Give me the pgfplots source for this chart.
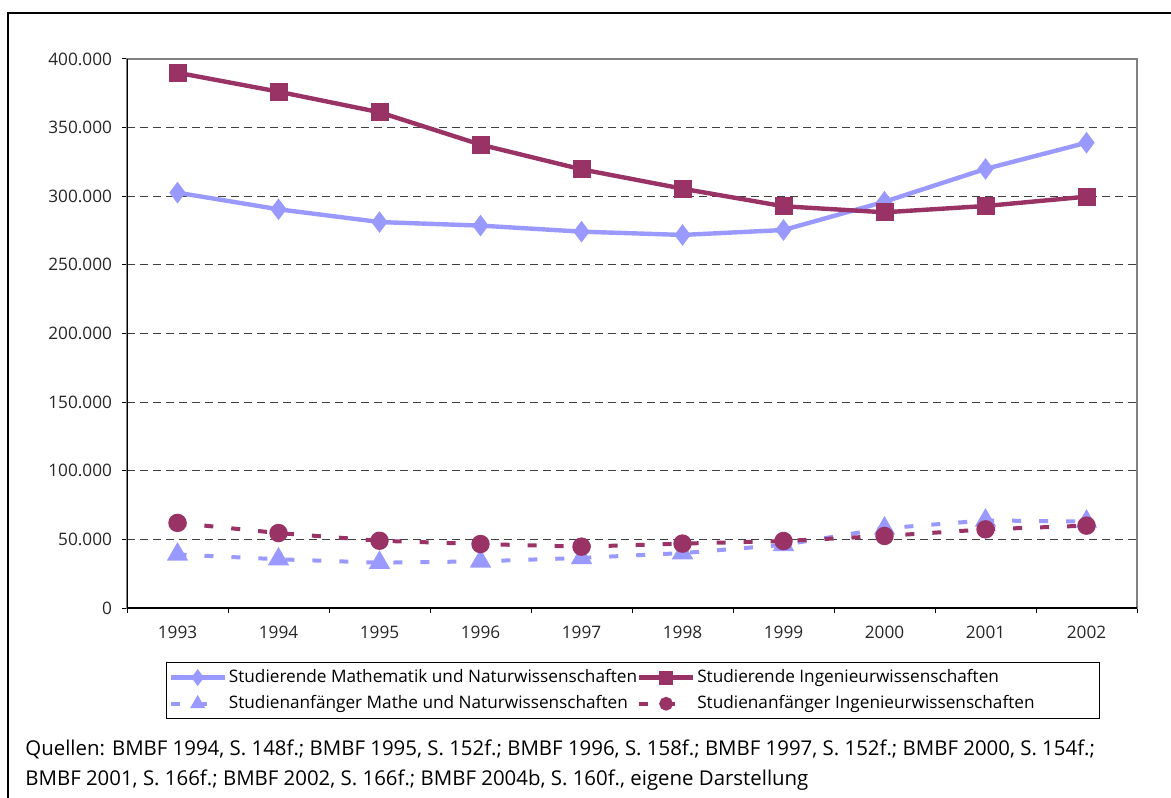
\documentclass[border=0pt]{standalone}
\usepackage{fontspec}
\setmainfont{Open Sans}
\usepackage{pgfplots}
\pgfplotsset{compat=1.18}
\definecolor{mnblue}{HTML}{9999FF}
\definecolor{ingpurple}{HTML}{993366}
\definecolor{gridgray}{HTML}{404040}

\newcommand{\lfont}{\fontsize{8.6pt}{10pt}\selectfont}
\newcommand{\sfont}{\fontsize{10.2pt}{12pt}\selectfont}

\begin{document}
\begin{tikzpicture}
\path[use as bounding box] (0,0) rectangle (585.5pt,398.5pt);
\begin{scope}
  \clip (0,0) rectangle (585.5pt,398.5pt);
  \draw[line width=1.3pt] (4pt,-5pt) -- (4pt,392pt) -- (600pt,392pt);
\end{scope}
\begin{axis}[
  at={(63.5pt,94.5pt)}, anchor=south west,
  scale only axis, width=505pt, height=274.5pt,
  xmin=-0.5, xmax=9.5, ymin=0, ymax=400000,
  xtick={0,...,9},
  xticklabels={1993,1994,1995,1996,1997,1998,1999,2000,2001,2002},
  major x tick style={draw=none},
  minor xtick={-0.5,0.5,...,9.5},
  ytick={0,50000,...,400000},
  scaled y ticks=false,
  /pgf/number format/.cd, fixed, 1000 sep={.}, assume math mode=true,
  /pgfplots/.cd,
  tick align=outside, xtick pos=bottom, ytick pos=left,
  major tick length=2.5pt, minor tick length=2.5pt,
  tick style={black, line width=0.5pt},
  ymajorgrids,
  grid style={gridgray, line width=0.45pt, dash pattern=on 4pt off 2.5pt},
  axis line style={draw=gray, line width=0.6pt},
  ticklabel style={font=\lfont, text=black!85},
  yticklabel style={xshift=-1.5pt},
  xticklabel style={yshift=-3pt},
  legend columns=2,
  legend cell align=left,
  legend style={at={(axis description cs:0.0386,-0.0984)}, anchor=north west,
    draw=black, line width=0.5pt, font=\lfont, inner xsep=1pt, inner ysep=2.5pt,
    nodes={inner xsep=1pt, inner ysep=1pt}, row sep=3pt, column sep=0pt},
  legend image code/.code={\draw[mark repeat=2,mark phase=2,#1,mark size=2.4pt]
    plot coordinates {(0pt,0pt) (13.5pt,0pt) (27pt,0pt)};},
]
\addplot[mnblue, line width=2.2pt, mark=diamond*, mark size=3.6pt, mark options={solid}]
  coordinates {(0,302600) (1,290500) (2,281200) (3,278600) (4,274200)
               (5,271800) (6,275400) (7,296000) (8,319900) (9,339000)};
\addlegendentry{\makebox[203pt][l]{Studierende Mathematik und Naturwissenschaften}}
\addplot[ingpurple, line width=2.2pt, mark=square*, mark size=3.4pt, mark options={solid}]
  coordinates {(0,390000) (1,376200) (2,361200) (3,337600) (4,319600)
               (5,305500) (6,292700) (7,288300) (8,292900) (9,299700)};
\addlegendentry{\makebox[199pt][l]{Studierende Ingenieurwissenschaften}}
\addplot[mnblue, line width=2pt, dash pattern=on 4.5pt off 9pt, mark=triangle*, mark size=4.2pt, mark options={solid}]
  coordinates {(0,39000) (1,35500) (2,33000) (3,34000) (4,36500)
               (5,40000) (6,46000) (7,58000) (8,63800) (9,63000)};
\addlegendentry{Studienanfänger Mathe und Naturwissenschaften}
\addplot[ingpurple, line width=2pt, dash pattern=on 4.5pt off 9pt, mark=*, mark size=3.6pt, mark options={solid}]
  coordinates {(0,62000) (1,54600) (2,49000) (3,46600) (4,44700)
               (5,46900) (6,48800) (7,52500) (8,57300) (9,60000)};
\addlegendentry{Studienanfänger Ingenieurwissenschaften}
\draw[black, line width=0.7pt] (rel axis cs:0,1) -- (rel axis cs:0,0) -- (rel axis cs:1,0);
\end{axis}
\node[anchor=base west, font=\sfont, inner sep=0pt] at (12.5pt,20.5pt)
  {Quellen: BMBF 1994, S. 148f.; BMBF 1995, S. 152f.; BMBF 1996, S. 158f.; BMBF 1997, S. 152f.; BMBF 2000, S. 154f.;};
\node[anchor=base west, font=\sfont, inner sep=0pt] at (12.5pt,5.5pt)
  {BMBF 2001, S. 166f.; BMBF 2002, S. 166f.; BMBF 2004b, S. 160f., eigene Darstellung};
\end{tikzpicture}
\end{document}
